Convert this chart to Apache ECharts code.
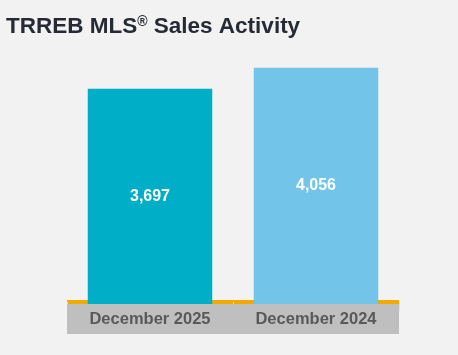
<!DOCTYPE html>
<html><head><meta charset="utf-8">
<script src="https://cdn.jsdelivr.net/npm/echarts@6/dist/echarts.min.js"></script>
<style>html,body{margin:0;padding:0;background:#f2f2f2}#c{width:458px;height:355px}</style>
</head><body><div id="c"></div>
<script>
var categories = ['December 2025', 'December 2024'];
var salesValues = [3697, 4056];
var barColors = ['#00aec7', '#72c5e8'];

var chart = echarts.init(document.getElementById('c'));
chart.setOption({
  backgroundColor: '#f2f2f2',
  animation: false,
  title: {
    left: 1, top: 10,
    text: '{a|TRREB MLS}{s|®}{a| Sales Activity}',
    textStyle: {
      rich: {
        a: {fontFamily: 'Liberation Sans, Arial', fontWeight: 'bold', fontSize: 22.5, color: '#262a35'},
        s: {fontFamily: 'Liberation Sans, Arial', fontWeight: 'bold', fontSize: 14, color: '#262a35', padding: [0, 0, 9, 0]}
      }
    }
  },
  grid: {left: 67, right: 59, top: 42, bottom: 51, containLabel: false},
  xAxis: {
    type: 'category',
    data: categories,
    offset: -2,
    axisLine: {show: true, lineStyle: {color: '#f2a900', width: 4, cap: 'butt'}},
    axisTick: {show: true, length: 9, lineStyle: {color: '#e2e2e2', width: 1}},
    axisLabel: {
      margin: 2,
      width: 166, height: 30, lineHeight: 30,
      backgroundColor: '#bfbfbf',
      color: '#595959',
      fontFamily: 'Liberation Sans, Arial',
      fontWeight: 'bold', fontSize: 16.5,
      align: 'center', verticalAlign: 'top'
    }
  },
  yAxis: {type: 'value', min: 0, max: 4500, show: false, splitLine: {show: false}},
  series: [{
    type: 'bar',
    barWidth: '75%',
    data: salesValues.map(function (v, i) { return {value: v, itemStyle: {color: barColors[i]}}; }),
    label: {
      show: true, position: 'inside', color: '#ffffff',
      fontFamily: 'Liberation Sans, Arial', fontWeight: 'bold', fontSize: 16,
      formatter: function (p) { return p.value.toLocaleString('en-US'); }
    }
  }]
});
</script></body></html>
